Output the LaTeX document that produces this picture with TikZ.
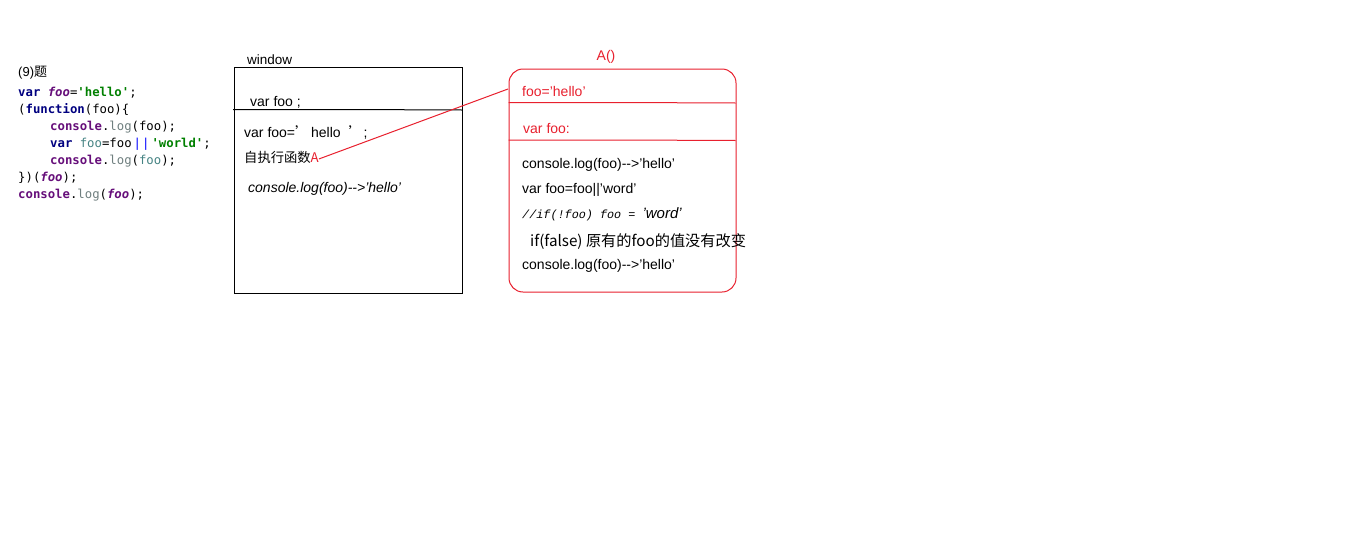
\documentclass[tikz,border=0pt]{standalone}
\usepackage{fontspec}
\setmainfont{Liberation Sans}
\setmonofont{DejaVu Sans Mono}
\newfontfamily\cjk{Noto Sans CJK SC}
\newfontfamily\cmono{Liberation Mono}
\definecolor{kw}{HTML}{000080}
\definecolor{pur}{HTML}{660E7A}
\definecolor{str}{HTML}{008000}
\definecolor{meth}{HTML}{6F7F7F}
\definecolor{par}{HTML}{458383}
\definecolor{rd}{HTML}{E8202E}
\newcommand{\kwv}[1]{\textcolor{kw}{\bfseries #1}}
\newcommand{\cons}{\textcolor{pur}{\bfseries console}}
\newcommand{\logm}{\textcolor{meth}{log}}
\newcommand{\ifoo}{\textcolor{pur}{\bfseries\itshape foo}}
\newcommand{\strv}[1]{\textcolor{str}{\bfseries #1}}
\begin{document}
\begin{tikzpicture}[x=1pt,y=-1pt,
  code/.style={anchor=base west,inner sep=0pt,font=\ttfamily\fontsize{12.3}{14}\selectfont},
  txt/.style={anchor=base west,inner sep=0pt,font=\fontsize{14}{16}\selectfont},
  rtxt/.style={txt,text=rd},
  frame/.style={draw,line width=1pt,anchor=north west,inner sep=0pt}]
\useasboundingbox[fill=white] (0,0) rectangle (1360,541);
% question text
\node[txt,font=\fontsize{13}{15}\selectfont] (q) at (18,76) {(9)\cjk 题};
\node[code] (c1) at (18,96) {\kwv{var} \ifoo=\strv{'hello'};};
\node[code] (c2) at (18,113) {(\kwv{function}(foo)\{};
\node[code] (c3) at (50,130) {\cons.\logm(foo);};
\node[code] (c4) at (50,147) {\kwv{var} \textcolor{par}{foo}=foo\,\textcolor{blue}{|\kern1pt|}\,\strv{'world'};};
\node[code] (c5) at (50,164) {\cons.\logm(\textcolor{par}{foo});};
\node[code] (c6) at (18,181) {\})(\ifoo);};
\node[code] (c7) at (18,198) {\cons.\logm(\ifoo);};
% window box
\node[txt,font=\fontsize{13.5}{15}\selectfont] (wl) at (247,64) {window};
\node[frame,minimum width=228,minimum height=226.5] (win) at (234,66.5) {};
\draw[line width=1pt] (233,109.5) -- (348,109.5) -- (462,110);
\node[txt] (w1) at (250,106) {var foo ;};
\node[txt] (w2) at (244,137) {var foo={\cjk ’}\kern2pt hello\ \ {\cjk ’}\kern1pt;};
\node[txt,font=\fontsize{13.3}{15}\selectfont] (w3) at (244,162) {\cjk 自执行函数\textcolor{rd}{A}};
\node[txt,font=\fontsize{14}{16}\selectfont\itshape] (w4) at (248,192) {console.log(foo)-{}->'hello'};
% A() box
\node[rtxt,anchor=base] (at) at (606,60) {A()};
\node[frame,draw=rd,rounded corners=14pt,minimum width=227,minimum height=223] (abox) at (508.5,68.5) {};
\draw[rd,line width=1pt] (508.5,102.5) -- (620,102.5) -- (735.5,103);
\draw[rd,line width=1pt] (508.5,140) -- (620,140) -- (735.5,140.5);
\node[rtxt] (a1) at (522,96) {foo='hello'};
\node[rtxt] (a2) at (523,133) {var foo:};
\node[txt] (a3) at (522,168) {console.log(foo)-{}->'hello'};
\node[txt] (a4) at (522,193) {var foo=foo||'word'};
\node[txt] (a5) at (522,218) {{\cmono\itshape\fontsize{11.8}{14}\selectfont //if(!foo) foo = }{\itshape\fontsize{15}{16}\selectfont 'word'}};
\node[txt,font=\cjk\fontsize{15.2}{18}\selectfont] (a6) at (530,246) {if(false) 原有的foo的值没有改变};
\node[txt] (a7) at (522,269) {console.log(foo)-{}->'hello'};
% connector
\coordinate (aend) at (508,89);
\draw[rd,line width=1pt] (w3.east) ++(0,2) -- (aend);
\end{tikzpicture}
\end{document}
